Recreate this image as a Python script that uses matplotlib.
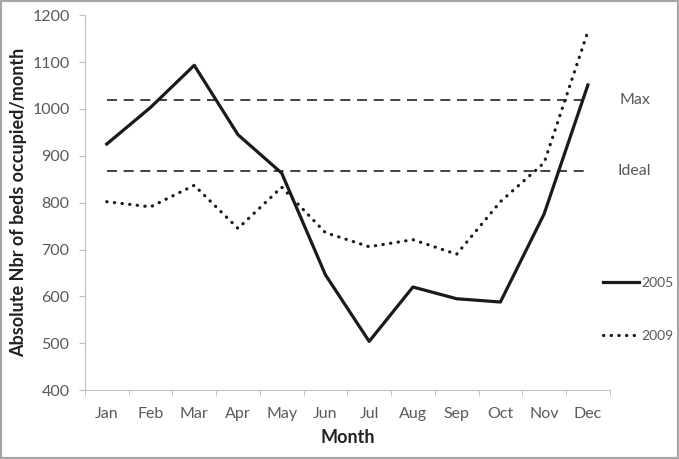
import matplotlib.pyplot as plt
from matplotlib.patches import Rectangle

months = ['Jan', 'Feb', 'Mar', 'Apr', 'May', 'Jun', 'Jul', 'Aug', 'Sep', 'Oct', 'Nov', 'Dec']
beds_2005 = [925, 1003, 1093, 945, 863, 646, 504, 620, 595, 588, 776, 1051]
beds_2009 = [802, 791, 837, 745, 833, 736, 706, 721, 690, 802, 885, 1165]
max_level = 1020
ideal_level = 867

plt.rcParams['font.family'] = ['Lato', 'DejaVu Sans']
text_grey = '#595959'
axis_grey = '#bfbfbf'

fig = plt.figure(figsize=(6.79, 4.59), dpi=100)
ax = fig.add_axes([0.125, 0.150, 0.773, 0.817])

x = list(range(len(months)))

# reference levels
ax.plot(x, [max_level] * len(x), color='#222222', lw=1.2, dashes=(6, 4))
ax.plot(x, [ideal_level] * len(x), color='#222222', lw=1.2, dashes=(6, 4))

# series
ax.plot(x, beds_2005, color='#1a1a1a', lw=2.3, label='2005')
ax.plot(x, beds_2009, color='#1a1a1a', lw=2.3, linestyle=(0, (0.1, 2.3)),
        dash_capstyle='round', label='2009')

ax.text(11.73, max_level, 'Max', color=text_grey, fontsize=11.5, va='center', clip_on=False)
ax.text(11.68, ideal_level, 'Ideal', color=text_grey, fontsize=11.5, va='center', clip_on=False)

ax.set_xlim(-0.5, 11.5)
ax.set_ylim(400, 1200)
ax.set_yticks(range(400, 1201, 100))
ax.set_xticks(x)
ax.set_xticklabels(months)
ax.set_xticks([i - 0.5 for i in range(13)], minor=True)
ax.tick_params(axis='x', which='major', length=0, pad=12, colors=text_grey, labelsize=11.5)
ax.tick_params(axis='x', which='minor', length=4, color=axis_grey)
ax.tick_params(axis='y', length=4, pad=7, color=axis_grey, labelcolor=text_grey, labelsize=11.5)

for side in ['top', 'right']:
    ax.spines[side].set_visible(False)
for side in ['left', 'bottom']:
    ax.spines[side].set_color(axis_grey)

ax.set_xlabel('Month', fontsize=13, fontweight='bold', color='#222222', labelpad=6)
ax.set_ylabel('Absolute Nbr of beds occupied/month', fontsize=13, fontweight='bold',
              color='#222222', labelpad=4)

ax.legend(loc='center left', bbox_to_anchor=(0.888, 0.325), bbox_transform=fig.transFigure,
          frameon=False, borderpad=0, borderaxespad=0, handlelength=2.6,
          handletextpad=0.15, labelspacing=2.95, fontsize=10, labelcolor=text_grey)

# grey outer frame
fig.patches.append(Rectangle((0, 0), 1, 1, transform=fig.transFigure, fill=False,
                             edgecolor='#a6a6a6', lw=3))

fig.savefig('out.png', dpi=100)
